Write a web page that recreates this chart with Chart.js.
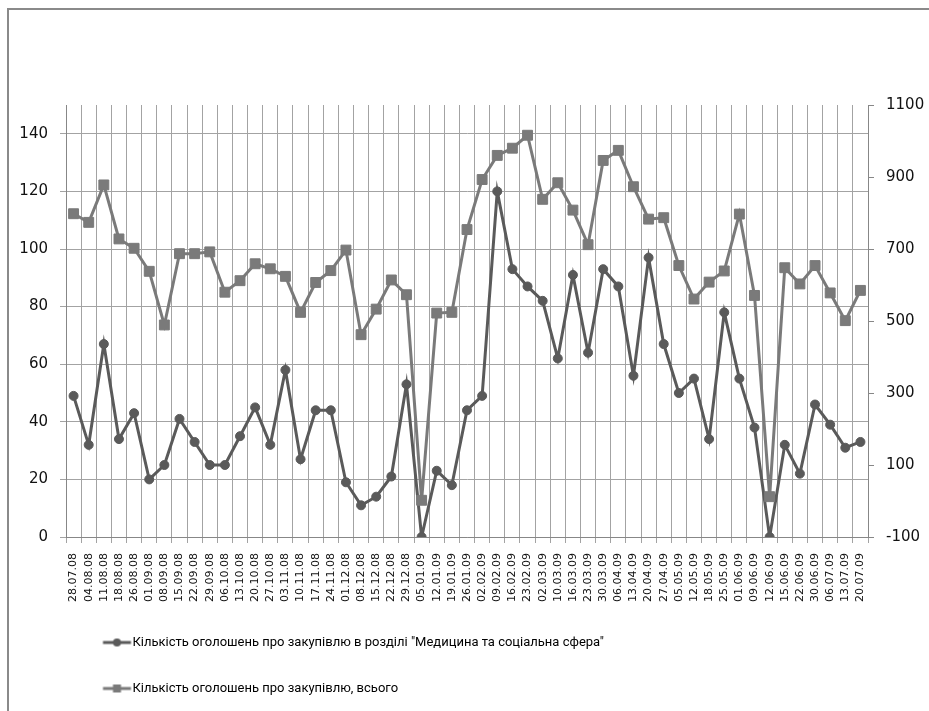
<!DOCTYPE html>
<html>
<head>
<meta charset="utf-8">
<script src="https://cdn.jsdelivr.net/npm/chart.js@4/dist/chart.umd.min.js"></script>
<style>
  html, body { margin: 0; padding: 0; background: #fff; width: 929px; height: 711px; overflow: hidden; }
  #frame { position: absolute; left: 7px; top: 8px; right: 0; bottom: 0; border-left: 2px solid #8a8a8a; border-top: 2px solid #8a8a8a; }
  #c { position: absolute; left: 0; top: 0; }
</style>
</head>
<body>
<div id="frame"></div>
<canvas id="c" width="929" height="711"></canvas>
<script>
const dates = ["28.07.08","04.08.08","11.08.08","18.08.08","26.08.08","01.09.08","08.09.08","15.09.08","22.09.08","29.09.08","06.10.08","13.10.08","20.10.08","27.10.08","03.11.08","10.11.08","17.11.08","24.11.08","01.12.08","08.12.08","15.12.08","22.12.08","29.12.08","05.01.09","12.01.09","19.01.09","26.01.09","02.02.09","09.02.09","16.02.09","23.02.09","02.03.09","10.03.09","16.03.09","23.03.09","30.03.09","06.04.09","13.04.09","20.04.09","27.04.09","05.05.09","12.05.09","18.05.09","25.05.09","01.06.09","09.06.09","12.06.09","15.06.09","22.06.09","30.06.09","06.07.09","13.07.09","20.07.09"];
const medicine = [49,32,67,34,43,20,25,41,33,25,25,35,45,32,58,27,44,44,19,11,14,21,53,0,23,18,44,49,120,93,87,82,62,91,64,93,87,56,97,67,50,55,34,78,55,38,0,32,22,46,39,31,33];
const total = [798,774,878,728,702,638,489,687,687,692,580,612,659,645,624,524,607,640,697,462,533,614,573,2,522,524,754,893,960,980,1016,838,884,808,712,946,974,873,783,787,654,561,608,639,797,571,12,648,603,654,578,501,585];
const seriesNames = ['Кількість оголошень про закупівлю в розділі "Медицина та соціальна сфера"', 'Кількість оголошень про закупівлю, всього'];
const leftTicks = [0,20,40,60,80,100,120,140];
const rightTicks = [-100,100,300,500,700,900,1100];

const C1 = '#5a5a5a', C2 = '#7a7a7a';
const GRID = '#a3a3a3', AXIS = '#878787';
const TICKFONT = "'DejaVu Sans', sans-serif";

function legendSymbol(color, kind) {
  const cv = document.createElement('canvas');
  cv.width = 40; cv.height = 12;
  const g = cv.getContext('2d');
  g.strokeStyle = color; g.lineWidth = 3;
  g.beginPath(); g.moveTo(10.5, 6); g.lineTo(38.5, 6); g.stroke();
  g.fillStyle = color;
  if (kind === 'circle') { g.beginPath(); g.arc(24.5, 6, 4, 0, Math.PI * 2); g.fill(); }
  else { g.fillRect(20.5, 2, 8, 8); }
  return cv;
}
const sym = [legendSymbol(C1, 'circle'), legendSymbol(C2, 'rect')];

new Chart(document.getElementById('c'), {
  type: 'line',
  data: {
    labels: dates,
    datasets: [
      { label: seriesNames[0], data: medicine, yAxisID: 'y', order: 1,
        borderColor: C1, backgroundColor: C1, borderWidth: 3, tension: 0,
        pointStyle: 'circle', pointRadius: 4.5, pointBorderWidth: 1,
        pointBackgroundColor: C1, pointBorderColor: C1 },
      { label: seriesNames[1], data: total, yAxisID: 'y1', order: 0,
        borderColor: C2, backgroundColor: C2, borderWidth: 3, tension: 0,
        pointStyle: 'rect', pointRadius: 7, pointBorderWidth: 1,
        pointBackgroundColor: C2, pointBorderColor: C2 }
    ]
  },
  options: {
    responsive: false,
    animation: false,
    devicePixelRatio: 1,
    layout: { padding: { left: 20, right: 5, top: 105, bottom: 6 } },
    plugins: {
      tooltip: { enabled: false },
      legend: {
        position: 'bottom',
        align: 'start',
        fullSize: false,
        labels: {
          usePointStyle: true,
          pointStyleWidth: 27,
          padding: 33,
          color: '#111',
          font: { family: "Roboto, sans-serif", size: 13 },
          generateLabels: (chart) => seriesNames.map((name, i) => ({
            text: name, datasetIndex: i, pointStyle: sym[i],
            fillStyle: i ? C2 : C1, strokeStyle: i ? C2 : C1, lineWidth: 0, hidden: false
          }))
        }
      }
    },
    scales: {
      x: {
        type: 'category',
        offset: true,
        grid: { offset: true, color: GRID, lineWidth: 1, tickLength: 6, drawTicks: true },
        border: { display: true, color: AXIS },
        ticks: { autoSkip: false, maxRotation: 90, minRotation: 90, padding: 10,
                 color: '#111', font: { family: TICKFONT, size: 11 } },
        afterFit: (s) => { s.height = 66; }
      },
      y: {
        position: 'left',
        min: 0, max: 150,
        afterBuildTicks: (s) => { s.ticks = leftTicks.map(v => ({ value: v })); },
        grid: { color: GRID, lineWidth: 1, tickLength: 6 },
        border: { display: true, color: AXIS },
        ticks: { padding: 12, color: '#111', font: { family: TICKFONT, size: 15 },
                 callback: (v) => String(v) },
        afterFit: (s) => { s.width = 46; }
      },
      y1: {
        position: 'right',
        min: -100, max: 1100,
        afterBuildTicks: (s) => { s.ticks = rightTicks.map(v => ({ value: v })); },
        grid: { drawOnChartArea: false, color: AXIS, tickLength: 6 },
        border: { display: true, color: AXIS },
        ticks: { padding: 12, color: '#111', font: { family: TICKFONT, size: 15 },
                 callback: (v) => String(v) },
        afterFit: (s) => { s.width = 56; }
      }
    }
  }
});
</script>
</body>
</html>
